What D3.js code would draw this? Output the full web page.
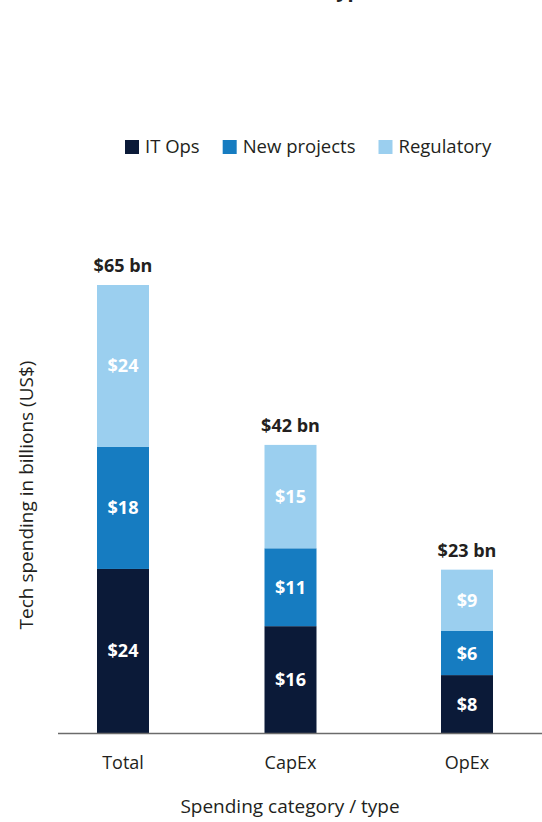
<!DOCTYPE html>
<html>
<head>
<meta charset="utf-8">
<script src="https://cdn.jsdelivr.net/npm/d3@7"></script>
<style>
  html, body { margin: 0; padding: 0; background: #fff; }
  svg { display: block; font-family: "Open Sans", "Noto Sans", sans-serif; }
</style>
</head>
<body>
<svg id="chart" width="542" height="822"></svg>
<script>
// ---- data ----
const categories = ["Total", "CapEx", "OpEx"];
const seriesNames = ["IT Ops", "New projects", "Regulatory"];
const itOps = [23.8, 15.5, 8.4];
const newProjects = [17.7, 11.3, 6.4];
const regulatory = [23.5, 15.0, 8.9];
const itOpsLabels = ["$24", "$16", "$8"];
const newProjectsLabels = ["$18", "$11", "$6"];
const regulatoryLabels = ["$24", "$15", "$9"];
const totalLabels = ["$65 bn", "$42 bn", "$23 bn"];
const colors = ["#0b1a38", "#167cc1", "#9bcfef"];
const titleLines = ["Tech spending by category", "and type"];
const xTitle = "Spending category / type";
const yTitle = "Tech spending in billions (US$)";

// ---- build table ----
const rows = categories.map((c, i) => ({
  category: c,
  "IT Ops": itOps[i],
  "New projects": newProjects[i],
  "Regulatory": regulatory[i]
}));
const segLabels = [itOpsLabels, newProjectsLabels, regulatoryLabels];

const svg = d3.select("#chart");

// scales
const x = d3.scaleOrdinal().domain(categories).range([123, 290.5, 467]);
const barW = 52;
const y = d3.scaleLinear().domain([0, 65]).range([733, 285]);

const stacked = d3.stack().keys(seriesNames)(rows);

// title (cut off at top of frame; only the descenders of the last line show)
const title = svg.append("text")
  .attr("text-anchor", "end")
  .attr("font-weight", 700).attr("font-size", 20)
  .attr("fill", "#222");
title.selectAll("tspan").data(titleLines).join("tspan")
  .attr("x", 372)
  .attr("y", (d, i) => -3 - (titleLines.length - 1 - i) * 26)
  .text(d => d);

// legend
const legend = svg.append("g").attr("transform", "translate(125,140)");
let lx = 0;
seriesNames.forEach((s, i) => {
  const g = legend.append("g").attr("transform", `translate(${lx},0)`);
  g.append("rect").attr("width", 14).attr("height", 14).attr("fill", colors[i]);
  const t = g.append("text").attr("x", 20).attr("y", 13)
    .attr("font-size", 18.5).attr("fill", "#231f20").text(s);
  lx += 20 + t.node().getComputedTextLength() + 23;
});

// bars
const layers = svg.append("g").selectAll("g").data(stacked).join("g")
  .attr("fill", (d, i) => colors[i]);
layers.selectAll("rect").data(d => d).join("rect")
  .attr("x", d => x(d.data.category) - barW / 2)
  .attr("width", barW)
  .attr("y", d => y(d[1]))
  .attr("height", d => y(d[0]) - y(d[1]));

// segment labels
stacked.forEach((layer, li) => {
  svg.append("g").selectAll("text").data(layer).join("text")
    .attr("x", d => x(d.data.category))
    .attr("y", d => (y(d[0]) + y(d[1])) / 2)
    .attr("dy", "0.36em")
    .attr("text-anchor", "middle")
    .attr("font-weight", 700).attr("font-size", 18)
    .attr("fill", "#fff")
    .text((d, i) => segLabels[li][i]);
});

// total labels
const topLayer = stacked[stacked.length - 1];
svg.append("g").selectAll("text").data(topLayer).join("text")
  .attr("x", d => x(d.data.category))
  .attr("y", d => y(d[1]) - 13)
  .attr("text-anchor", "middle")
  .attr("font-weight", 700).attr("font-size", 18)
  .attr("fill", "#231f20")
  .text((d, i) => totalLabels[i]);

// x axis baseline
svg.append("line")
  .attr("x1", 58).attr("x2", 542)
  .attr("y1", y(0) + 0.5).attr("y2", y(0) + 0.5)
  .attr("stroke", "#6b6b6b").attr("stroke-width", 1.6);

// category labels
svg.append("g").selectAll("text").data(categories).join("text")
  .attr("x", d => x(d)).attr("y", 769)
  .attr("text-anchor", "middle")
  .attr("font-size", 18).attr("fill", "#231f20")
  .text(d => d);

// axis titles
svg.append("text")
  .attr("x", 290).attr("y", 813)
  .attr("text-anchor", "middle")
  .attr("font-size", 19).attr("fill", "#231f20")
  .text(xTitle);

svg.append("text")
  .attr("transform", "translate(33,495) rotate(-90)")
  .attr("text-anchor", "middle")
  .attr("font-size", 19).attr("fill", "#231f20")
  .text(yTitle);
</script>
</body>
</html>
